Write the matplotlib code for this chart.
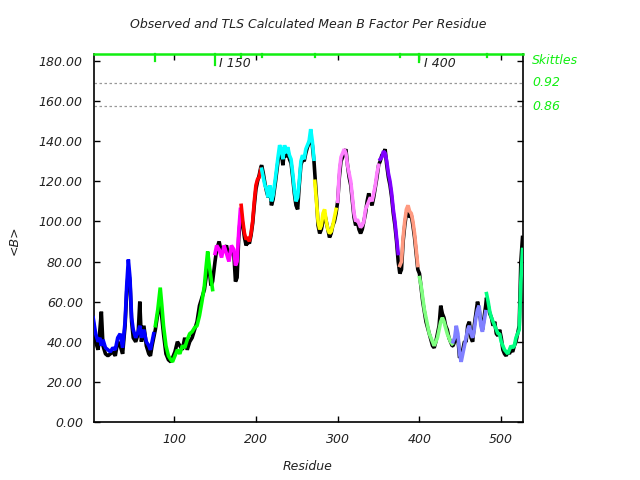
import matplotlib
matplotlib.use("Agg")
import matplotlib.pyplot as plt
import numpy as np

# ---------------- data ----------------
residue = [1, 4, 7, 9, 11, 13, 16, 19, 22, 25, 28, 31, 34, 37, 40, 42, 44, 46, 48, 50,
           53, 56, 58, 60, 63, 66, 69, 71, 73, 75, 77,
           80, 83, 85, 87, 90, 93, 96, 98, 101, 104, 107, 110, 113, 116, 119, 122, 125,
           128, 131, 134, 137, 139, 141, 143, 145, 147,
           150, 152, 155, 158, 161, 164, 167, 170, 173, 175, 177, 179, 181,
           182, 184, 186, 188, 190, 192, 194, 196, 198, 200, 202, 204, 206,
           207, 209, 211, 213, 215, 217, 219, 221, 224, 227, 229, 231, 233, 235, 237, 239,
           241, 243, 245, 247, 249, 251, 253, 255, 257, 259, 261, 263, 265, 267, 269, 271,
           272, 274, 276, 278, 280, 282, 284, 286, 288, 290, 292, 294, 296, 298,
           300, 302, 304, 306, 308, 310, 312, 314, 316, 318, 320, 322, 324, 326, 328, 330,
           332, 334, 336, 338, 340, 342, 344, 346, 348, 350,
           352, 354, 356, 358, 360, 362, 364, 366, 368, 370, 372, 374,
           376, 378, 380, 382, 384, 386, 388, 390, 392, 394, 396, 398,
           400, 402, 404, 406, 408, 410, 412, 414, 416, 418, 420, 422, 424, 426, 428, 430,
           432, 434, 436, 438, 440,
           441, 443, 445, 447, 449, 451, 453, 455, 457, 459, 461, 463, 465, 467, 469, 471,
           473, 475, 477, 479, 481,
           482, 484, 486, 488, 490, 492, 494, 496, 498, 500, 502, 504, 506, 508, 510, 512,
           514, 516, 518, 520, 522, 524, 526]

tls_b = [52, 44, 40, 42, 38, 41, 37, 36, 35, 37, 36, 42, 44, 37, 50, 68, 81, 72, 52, 46,
         42, 45, 48, 42, 46, 40, 38, 36, 40, 44, 48,
         56, 67, 58, 48, 38, 33, 31, 30, 33, 36, 34, 38, 37, 41, 44, 45, 47,
         48, 53, 60, 68, 77, 85, 78, 72, 66,
         84, 88, 86, 82, 88, 84, 80, 88, 86, 78, 80, 95, 106,
         108, 100, 94, 91, 92, 90, 94, 100, 110, 118, 121, 122, 126,
         126, 122, 118, 116, 112, 118, 110, 113, 122, 132, 138, 136, 131, 138, 134, 137,
         133, 131, 124, 116, 110, 112, 120, 130, 133, 131, 136, 138, 140, 146, 140, 131,
         120, 110, 100, 96, 98, 104, 106, 100, 96, 94, 95, 98, 102, 106,
         110, 125, 132, 134, 136, 134, 128, 124, 120, 112, 104, 100, 101, 99, 97, 98,
         100, 106, 108, 110, 112, 110, 114, 118, 124, 128,
         131, 132, 135, 134, 130, 124, 120, 114, 106, 100, 92, 84,
         78, 80, 92, 100, 106, 108, 105, 104, 100, 94, 86, 78,
         72, 68, 62, 56, 52, 48, 44, 42, 40, 38, 40, 42, 46, 50, 52, 50,
         47, 44, 42, 40, 39,
         40, 42, 48, 44, 34, 30, 34, 38, 42, 46, 48, 44, 42, 46, 52, 56,
         58, 48, 45, 50, 55,
         64, 60, 55, 52, 50, 48, 46, 44, 44, 40, 38, 36, 35, 34, 36, 38,
         37, 38, 42, 44, 46, 70, 86]

obs_b = [50, 40, 36, 45, 55, 38, 34, 33, 34, 35, 33, 40, 38, 34, 48, 65, 75, 70, 50, 42,
         40, 44, 60, 40, 48, 38, 34, 33, 38, 42, 46,
         54, 60, 52, 44, 34, 31, 30, 32, 35, 40, 38, 36, 42, 36, 40, 42, 46,
         50, 58, 62, 66, 72, 80, 76, 68, 70,
         80, 86, 90, 84, 86, 88, 82, 86, 84, 70, 72, 92, 102,
         104, 98, 92, 88, 90, 89, 93, 99, 108, 116, 120, 123, 127,
         128, 124, 119, 115, 112, 116, 108, 111, 120, 130, 134, 135, 128, 136, 132, 135,
         131, 129, 122, 114, 108, 106, 118, 128, 131, 130, 134, 137, 139, 142, 138, 130,
         124, 112, 98, 94, 96, 100, 104, 100, 96, 92, 94, 98, 100, 104,
         110, 122, 130, 132, 134, 136, 128, 122, 118, 110, 102, 98, 100, 96, 94, 96,
         100, 104, 110, 114, 110, 108, 112, 117, 122, 128,
         130, 133, 134, 136, 128, 122, 118, 112, 104, 98, 90, 80,
         74, 76, 90, 98, 104, 106, 102, 103, 98, 92, 84, 76,
         74, 67, 60, 55, 50, 47, 44, 41, 38, 37, 40, 44, 48, 58, 54, 52,
         48, 46, 42, 40, 38,
         38, 40, 44, 42, 32, 33, 36, 40, 40, 48, 50, 42, 40, 48, 54, 60,
         56, 50, 46, 52, 58,
         62, 58, 54, 52, 48, 50, 44, 43, 46, 42, 36, 34, 33, 35, 34, 36,
         35, 38, 40, 44, 48, 80, 92]

segment_starts = [1, 77, 150, 182, 207, 272, 300, 352, 376, 400, 441, 482]
segment_colors = ['#0000ff', '#00ff00', '#ff00ff', '#ff0000', '#00ffff', '#ffff00',
                  '#ff80ff', '#8000ff', '#ff9a80', '#80ff80', '#8080ff', '#00ff80']

marker_residues = [77, 150, 182, 207, 272, 376, 400, 482]
marker_labels = {150: 'I 150', 400: 'I 400'}
right_labels = ['Skittles', '0.92', '0.86']
right_label_values = [180.0, 169.0, 157.5]
dotted_values = [169.0, 157.5]

x_ticks = [100, 200, 300, 400, 500]
y_ticks = [0, 20, 40, 60, 80, 100, 120, 140, 160, 180]

title = 'Observed and TLS Calculated Mean B Factor Per Residue'
xlabel = 'Residue'
ylabel = '<B>'

# ---------------- plot ----------------
plt.rcParams['font.family'] = ['DejaVu Sans']
GREEN = '#11ee11'
fig = plt.figure(figsize=(6.4, 4.8), dpi=100)
ax = fig.add_axes([94 / 640, 1 - 422 / 480, (522.5 - 94) / 640, (422 - 53.5) / 480])
XMIN, XMAX = 2, 526
YMIN, YMAX = 0, 183.7
ax.set_xlim(XMIN, XMAX)
ax.set_ylim(YMIN, YMAX)

r = np.array(residue)
tb = np.array(tls_b)
ob = np.array(obs_b)

LW = 2.6
ax.plot(r, ob, color='black', lw=LW, solid_joinstyle='bevel', zorder=2)
bounds = segment_starts + [10000]
for i, col in enumerate(segment_colors):
    m = (r >= bounds[i]) & (r < bounds[i + 1])
    ax.plot(r[m], tb[m], color=col, lw=LW, solid_joinstyle='bevel', zorder=3)

for v in dotted_values:
    ax.axhline(v, color='#999999', lw=0.9, ls=(0, (2, 2)), zorder=1)

# top markers
for mr in marker_residues:
    length = 5.5 if mr in marker_labels else (3.5 if mr == 77 else 1.5)
    if mr == 400:
        length = 4.2
    ax.plot([mr, mr], [YMAX, YMAX - length], color=GREEN, lw=1.6, zorder=4, clip_on=False)
    if mr in marker_labels:
        ax.text(mr + 5, YMAX - 1.5, marker_labels[mr], fontsize=9, style='italic',
                ha='left', va='top', color='#222222')

for lab, v in zip(right_labels, right_label_values):
    ax.text(XMAX + 12, v, lab, fontsize=9, style='italic', color=GREEN,
            ha='left', va='center', clip_on=False)

ax.set_xticks(x_ticks)
ax.set_yticks(y_ticks)
ax.set_yticklabels(['%.2f' % v for v in y_ticks])
ax.tick_params(direction='in', length=4, width=1, top=True, right=True,
               labelsize=9, pad=8)
for lab in ax.get_xticklabels() + ax.get_yticklabels():
    lab.set_style('italic')
    lab.set_color('#222222')
for s in ['left', 'bottom', 'right']:
    ax.spines[s].set_linewidth(1.2)
ax.spines['top'].set_color(GREEN)
ax.spines['top'].set_linewidth(1.8)

fig.text(308 / 640, 1 - 25 / 480, title, ha='center', va='center', fontsize=9,
         style='italic', color='#222222')
fig.text(308 / 640, 1 - 466 / 480, xlabel, ha='center', va='center', fontsize=9,
         style='italic', color='#222222')
fig.text(14 / 640, 1 - 240 / 480, ylabel, ha='center', va='center', fontsize=9,
         style='italic', rotation=90, color='#222222')

fig.savefig('out.png', dpi=100)
